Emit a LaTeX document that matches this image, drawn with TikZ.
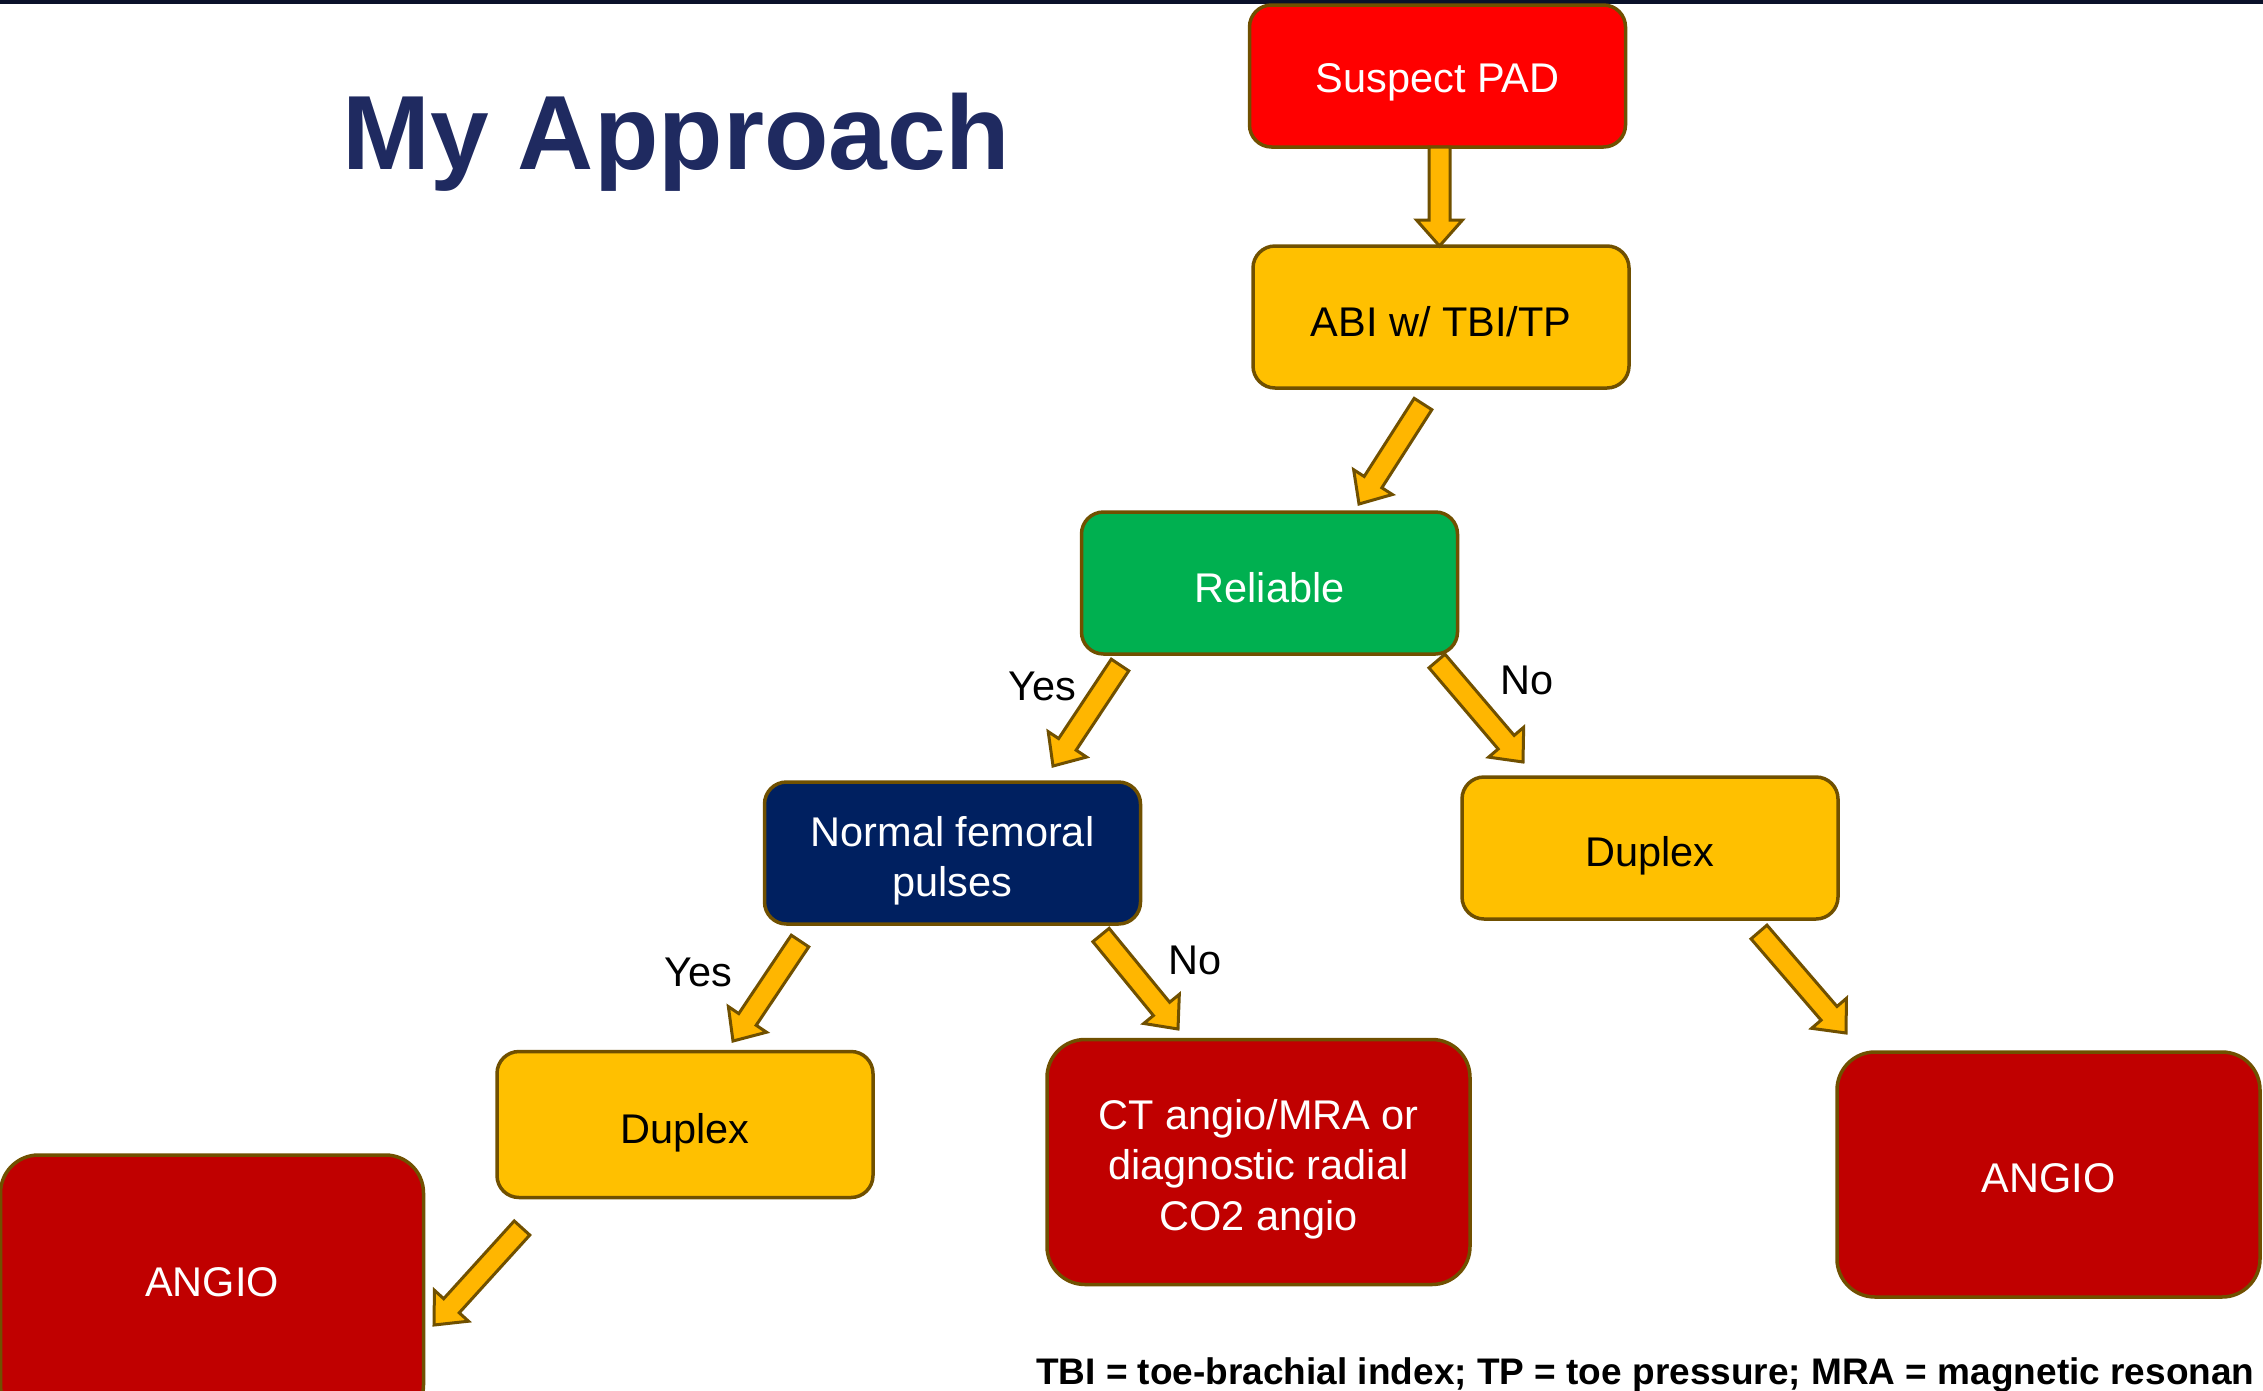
\documentclass[tikz,border=0pt]{standalone}
\usepackage{fontspec}
\setmainfont{Liberation Sans}
\usetikzlibrary{calc}
\definecolor{brd}{RGB}{112,80,0}
\definecolor{gold}{HTML}{FFC000}
\definecolor{arrfill}{HTML}{FFB600}
\definecolor{grn}{HTML}{00B050}
\definecolor{navy}{HTML}{002060}
\definecolor{dred}{HTML}{C00000}
\definecolor{ttl}{RGB}{31,42,96}
\definecolor{topbar}{RGB}{10,17,42}
\newcommand\blockarr[2]{%
  \coordinate (bh) at ($(#2)!26pt!(#1)$);
  \filldraw[barrowst] ($(#1)!10.5pt!90:(#2)$) -- ($(bh)!10.5pt!90:(#2)$) -- ($(bh)!23pt!90:(#2)$) -- (#2) -- ($(bh)!23pt!-90:(#2)$) -- ($(bh)!10.5pt!-90:(#2)$) -- ($(#1)!10.5pt!-90:(#2)$) -- cycle;}
\begin{document}
\begin{tikzpicture}[x=1pt,y=-1pt,
  box/.style={draw=brd, line width=3.5pt, rounded corners=22pt, minimum width=376pt, minimum height=142pt, inner sep=0pt},
  bigbox/.style={draw=brd, line width=3.5pt, rounded corners=38pt, minimum width=423pt, minimum height=245pt, inner sep=0pt, fill=dred},
  btxt/.style={inner sep=0pt, align=center, font=\fontsize{41.5}{50.5}\selectfont},
  barrowst/.style={fill=arrfill, draw=brd, line width=3pt, line join=miter},
  lbl/.style={inner sep=0pt, font=\fontsize{41.5}{48}\selectfont}]
\useasboundingbox (0,0) rectangle (2263,1390);
\clip (0,0) rectangle (2263,1390);
\fill[white] (0,0) rectangle (2263,1390);
\fill[topbar] (0,0) rectangle (2263,4);

\node[anchor=base west, inner sep=0pt, text=ttl, font=\fontsize{105.5}{120}\selectfont\bfseries] (title) at (342,169) {My Approach};

\node[box, fill=red, label={[btxt, text=white, yshift=-6pt]center:Suspect PAD}] (pad) at (1437.5,76) {};
\node[box, fill=gold, label={[btxt, yshift=-5pt]center:ABI w/ TBI/TP}] (abi) at (1441,317) {};
\node[box, fill=grn, label={[btxt, text=white, yshift=-5pt]center:Reliable}] (rel) at (1269.5,583) {};
\node[box, fill=navy, label={[btxt, text=white, yshift=-8pt]center:{Normal femoral\\pulses}}] (nfp) at (952.5,853) {};
\node[box, fill=gold, label={[btxt, yshift=-8pt]center:Duplex}] (dupr) at (1650,848) {};
\node[box, fill=gold, minimum height=146pt, label={[btxt, yshift=-8pt]center:Duplex}] (dupl) at (685,1124.5) {};
\node[bigbox, label={[btxt, text=white, yshift=-7pt]center:{CT angio/MRA or\\diagnostic radial\\CO2 angio}}] (ct) at (1258.5,1162) {};
\node[bigbox, label={[btxt, text=white, yshift=-4pt]center:ANGIO}] (angr) at (2048.5,1174.5) {};
\node[bigbox, minimum height=268pt, label={[btxt, text=white, yshift=7pt]center:ANGIO}] (angl) at (212,1289) {};

\coordinate (a1s) at (1439.5,147);  \coordinate (a1e) at (1439.5,246);
\coordinate (a2s) at (1423,404);    \coordinate (a2e) at (1359,504);
\coordinate (a3s) at (1120,665);    \coordinate (a3e) at (1053,766);
\coordinate (a4s) at (1437,661);    \coordinate (a4e) at (1523,762);
\coordinate (a5s) at (800,941);     \coordinate (a5e) at (733,1041);
\coordinate (a6s) at (1101,935);    \coordinate (a6e) at (1178,1029);
\coordinate (a7s) at (1759,932);    \coordinate (a7e) at (1846,1033);
\coordinate (a8s) at (522,1228);    \coordinate (a8e) at (434,1325);

\blockarr{a1s}{a1e}
\blockarr{a2s}{a2e}
\blockarr{a3s}{a3e}
\blockarr{a4s}{a4e}
\blockarr{a5s}{a5e}
\blockarr{a6s}{a6e}
\blockarr{a7s}{a7e}
\blockarr{a8s}{a8e}

\node[lbl] (yes1) at (1042,686) {Yes};
\node[lbl] (no1) at (1527,680) {No};
\node[lbl] (yes2) at (698,972) {Yes};
\node[lbl] (no2) at (1195,960) {No};

\node[anchor=base west, inner sep=0pt, font=\fontsize{37}{44}\selectfont\bfseries] (foot) at (1036,1384) {TBI = toe-brachial index; TP = toe pressure; MRA = magnetic resonan};
\end{tikzpicture}
\end{document}
